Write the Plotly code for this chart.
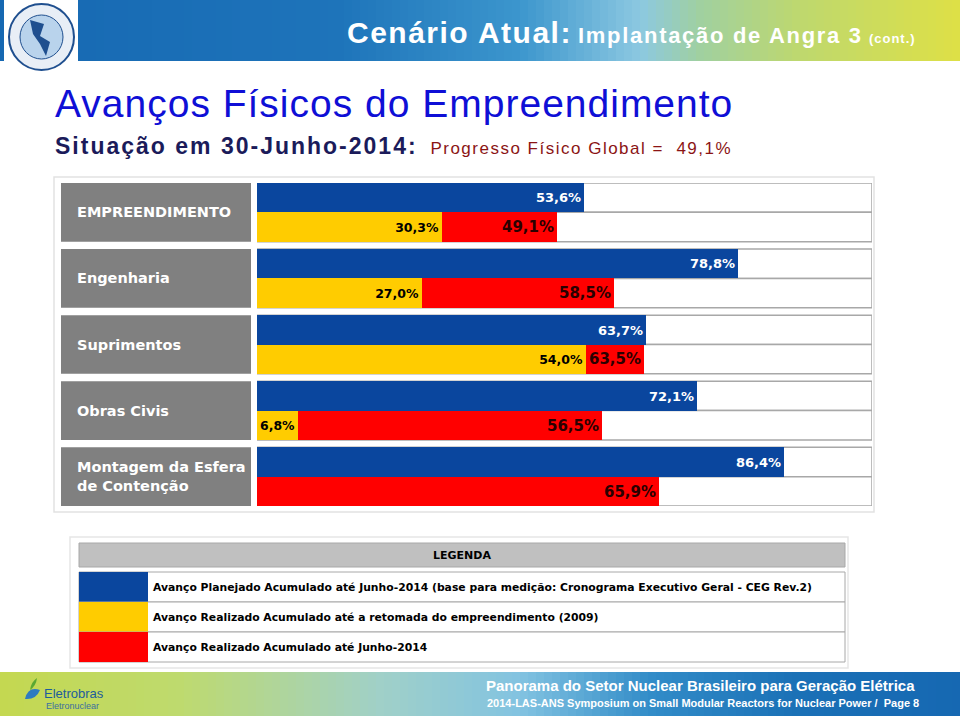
import plotly.graph_objects as go

# ---------------- data ----------------
categories = ["EMPREENDIMENTO", "Engenharia", "Suprimentos", "Obras Civis",
              "Montagem da Esfera<br>de Contenção"]
planned_2014 = [53.6, 78.8, 63.7, 72.1, 86.4]        # blue
realized_2009 = [30.3, 27.0, 54.0, 6.8, 0.0]         # yellow
realized_2014 = [49.1, 58.5, 63.5, 56.5, 65.9]       # red
legend_labels = [
    "Avanço Planejado Acumulado até Junho-2014 (base para medição: Cronograma Executivo Geral - CEG Rev.2)",
    "Avanço Realizado Acumulado até a retomada do empreendimento (2009)",
    "Avanço Realizado Acumulado até Junho-2014",
]

BLUE, YELLOW, RED = "#0a469e", "#ffcc00", "#ff0000"
W, H = 960, 716


def fmt(v):
    return f"{v:.1f}".replace(".", ",") + "%"


def px(x):
    return x / W


def py(y):
    return 1 - y / H


BLOCK = 2.25
blue_y = [i * BLOCK + 0.5 for i in range(len(categories))]
low_y = [i * BLOCK + 1.5 for i in range(len(categories))]
XMAX = 100.8

fig = go.Figure()

fig.add_trace(go.Bar(
    orientation="h", y=blue_y, x=planned_2014, width=1,
    marker=dict(color=BLUE, line=dict(width=0)),
    text=[fmt(v) for v in planned_2014], textposition="inside", insidetextanchor="end",
    textfont=dict(family="DejaVu Sans", size=13, color="white", weight="bold"),
    cliponaxis=False, showlegend=False, hoverinfo="skip"))

fig.add_trace(go.Bar(
    orientation="h", y=low_y, x=realized_2009, width=1,
    marker=dict(color=YELLOW, line=dict(width=0)),
    text=[fmt(v) if v > 0 else "" for v in realized_2009], textposition="inside",
    insidetextanchor="end",
    textfont=dict(family="DejaVu Sans", size=12.5, color="black", weight="bold"),
    cliponaxis=False, showlegend=False, hoverinfo="skip"))

fig.add_trace(go.Bar(
    orientation="h", y=low_y, x=[r - y for r, y in zip(realized_2014, realized_2009)],
    base=realized_2009, width=1,
    marker=dict(color=RED, line=dict(width=0)),
    text=[fmt(v) for v in realized_2014], textposition="inside", insidetextanchor="end",
    textfont=dict(family="DejaVu Sans", size=15, color="#2a0000", weight="bold"),
    cliponaxis=False, showlegend=False, hoverinfo="skip"))

shapes = []
annotations = []


def rect(x0, y0, x1, y1, fill, line=None, lw=0, layer="below", xref="paper", yref="paper"):
    shapes.append(dict(type="rect", xref=xref, yref=yref, x0=x0, x1=x1, y0=y0, y1=y1,
                       fillcolor=fill, line=dict(color=line or fill, width=lw), layer=layer))


def lerp_color(stops, t):
    for (t0, c0), (t1, c1) in zip(stops, stops[1:]):
        if t0 <= t <= t1:
            f = (t - t0) / (t1 - t0) if t1 > t0 else 0
            c = [round(a + (b - a) * f) for a, b in zip(c0, c1)]
            return "rgb(%d,%d,%d)" % tuple(c)
    return "rgb(%d,%d,%d)" % stops[-1][1]


# ---- header banner gradient ----
top_stops = [(0, (22, 104, 178)), (340, (30, 116, 186)), (520, (60, 150, 205)),
             (640, (140, 200, 225)), (700, (160, 208, 160)), (800, (190, 216, 110)),
             (960, (222, 224, 70))]
STEP = 8
for x in range(0, W, STEP):
    rect(px(x), py(61), px(x + STEP + 0.5), py(0), lerp_color(top_stops, x + STEP / 2))

bot_stops = [(0, (196, 216, 80)), (180, (190, 218, 110)), (380, (160, 208, 200)),
             (520, (130, 195, 225)), (650, (50, 140, 200)), (800, (26, 112, 182)),
             (960, (22, 104, 178))]
for x in range(0, W, STEP):
    rect(px(x), py(716), px(x + STEP + 0.5), py(672), lerp_color(bot_stops, x + STEP / 2))

# logo (top-left)
rect(px(4), py(72), px(78), py(0), "white")
shapes.append(dict(type="circle", xref="paper", yref="paper", x0=px(9), x1=px(74),
                   y0=py(70), y1=py(4), fillcolor="#e8eef6",
                   line=dict(color="#1f4f8f", width=2)))
shapes.append(dict(type="circle", xref="paper", yref="paper", x0=px(20), x1=px(63),
                   y0=py(59), y1=py(15), fillcolor="#b9d3ec",
                   line=dict(color="#1f4f8f", width=1)))
shapes.append(dict(type="path", xref="paper", yref="paper",
                   path=f"M {px(30)},{py(20)} L {px(44)},{py(24)} L {px(40)},{py(36)} "
                        f"L {px(50)},{py(42)} L {px(46)},{py(56)} L {px(40)},{py(44)} "
                        f"L {px(33)},{py(34)} Z",
                   fillcolor="#1f4f8f", line=dict(width=0)))

# footer logo
shapes.append(dict(type="path", xref="paper", yref="paper",
                   path=f"M {px(25)},{py(699)} Q {px(28)},{py(686)} {px(40)},{py(690)} "
                        f"Q {px(36)},{py(700)} {px(25)},{py(699)} Z",
                   fillcolor="#2e7bc0", line=dict(width=0)))
shapes.append(dict(type="path", xref="paper", yref="paper",
                   path=f"M {px(30)},{py(690)} Q {px(31)},{py(682)} {px(37)},{py(678)} "
                        f"Q {px(36)},{py(686)} {px(30)},{py(690)} Z",
                   fillcolor="#5aa832", line=dict(width=0)))
annotations.append(dict(xref="paper", yref="paper", x=px(42), y=py(693), xanchor="left",
                        yanchor="middle", showarrow=False, text="Eletrobras",
                        font=dict(family="Liberation Sans", size=13, color="#1d5c9c")))
annotations.append(dict(xref="paper", yref="paper", x=px(44), y=py(706), xanchor="left",
                        yanchor="middle", showarrow=False, text="Eletronuclear",
                        font=dict(family="Liberation Sans", size=9, color="#3b6f9f")))

# footer texts
annotations.append(dict(xref="paper", yref="paper", x=px(917), y=py(685), xanchor="right",
                        yanchor="middle", showarrow=False,
                        text="<b>Panorama do Setor Nuclear Brasileiro para Geração Elétrica</b>",
                        font=dict(family="Liberation Sans", size=15, color="white")))
annotations.append(dict(xref="paper", yref="paper", x=px(921), y=py(703), xanchor="right",
                        yanchor="middle", showarrow=False,
                        text="<b>2014-LAS-ANS Symposium on Small Modular Reactors for Nuclear Power /  Page 8</b>",
                        font=dict(family="Liberation Sans", size=11, color="white")))

# header title
annotations.append(dict(xref="paper", yref="paper", x=px(918), y=py(33), xanchor="right",
                        yanchor="middle", showarrow=False,
                        text="<b><span style='font-size:30px;letter-spacing:1.5px'>Cenário Atual:</span> "
                             "<span style='font-size:22px;letter-spacing:1.7px'>Implantação de Angra 3</span> "
                             "<span style='font-size:13px;letter-spacing:1px'>(cont.)</span></b>",
                        font=dict(family="Liberation Sans", size=22, color="white")))

# slide titles
annotations.append(dict(xref="paper", yref="paper", x=px(53), y=py(104), xanchor="left",
                        yanchor="middle", showarrow=False,
                        text="<span style='letter-spacing:1px'>Avanços Físicos do Empreendimento</span>",
                        font=dict(family="Liberation Sans", size=39, color="#0f0fd6")))
annotations.append(dict(xref="paper", yref="paper", x=px(53), y=py(146), xanchor="left",
                        yanchor="middle", showarrow=False,
                        text="<b><span style='letter-spacing:2px'>Situação em 30-Junho-2014:</span></b>  "
                             "<span style='font-size:17px;color:#8b1414;letter-spacing:1.5px'>Progresso Físico Global =  49,1%</span>",
                        font=dict(family="Liberation Sans", size=23, color="#1b1b5a")))

# chart frame
rect(px(54), py(512), px(874), py(177), "white", "#e2e2e2", 1.5)

# row frames (white with grey borders)
for by, ly in zip(blue_y, low_y):
    for yc in (by, ly):
        rect(0, yc - 0.5, XMAX, yc + 0.5, "white", "#a8a8a8", 1.5, xref="x", yref="y")

# category grey boxes + labels
for i, cat in enumerate(categories):
    rect(px(61), i * BLOCK + 2, px(251), i * BLOCK, "#808080", xref="paper", yref="y")
    annotations.append(dict(xref="paper", yref="y", x=px(75), y=i * BLOCK + 1,
                            xanchor="left", yanchor="middle", showarrow=False, text=f"<b>{cat}</b>",
                            align="left",
                            font=dict(family="DejaVu Sans", size=14.5, color="white")))

# ---- legend table ----
rect(px(70), py(668), px(848), py(537), "white", "#e6e6e6", 1.5)
rect(px(79), py(567), px(845), py(543), "#c0c0c0", "#a8a8a8", 1)
annotations.append(dict(xref="paper", yref="paper", x=px(462), y=py(555), xanchor="center",
                        yanchor="middle", showarrow=False, text="<b>LEGENDA</b>",
                        font=dict(family="DejaVu Sans", size=11, color="black")))
leg_colors = [BLUE, YELLOW, RED]
row_tops = [572, 602, 632]
for top, col, lab in zip(row_tops, leg_colors, legend_labels):
    rect(px(79), py(top + 30), px(845), py(top), "white", "#a8a8a8", 1)
    rect(px(79), py(top + 30), px(148), py(top), col)
    annotations.append(dict(xref="paper", yref="paper", x=px(151), y=py(top + 15), xanchor="left",
                            yanchor="middle", showarrow=False, text=f"<b>{lab}</b>",
                            font=dict(family="DejaVu Sans", size=10.8, color="black")))

fig.update_layout(
    width=W, height=H, margin=dict(l=0, r=0, t=0, b=0),
    paper_bgcolor="white", plot_bgcolor="rgba(0,0,0,0)",
    barmode="overlay", bargap=0,
    shapes=shapes, annotations=annotations,
    xaxis=dict(domain=[px(257), px(872)], range=[0, XMAX], visible=False, fixedrange=True),
    yaxis=dict(domain=[py(506), py(183)], range=[11, 0], visible=False, fixedrange=True),
)

fig.write_html("out.html", config={"displayModeBar": False},
               post_script="document.body.style.margin='0';document.body.style.overflow='hidden';")
